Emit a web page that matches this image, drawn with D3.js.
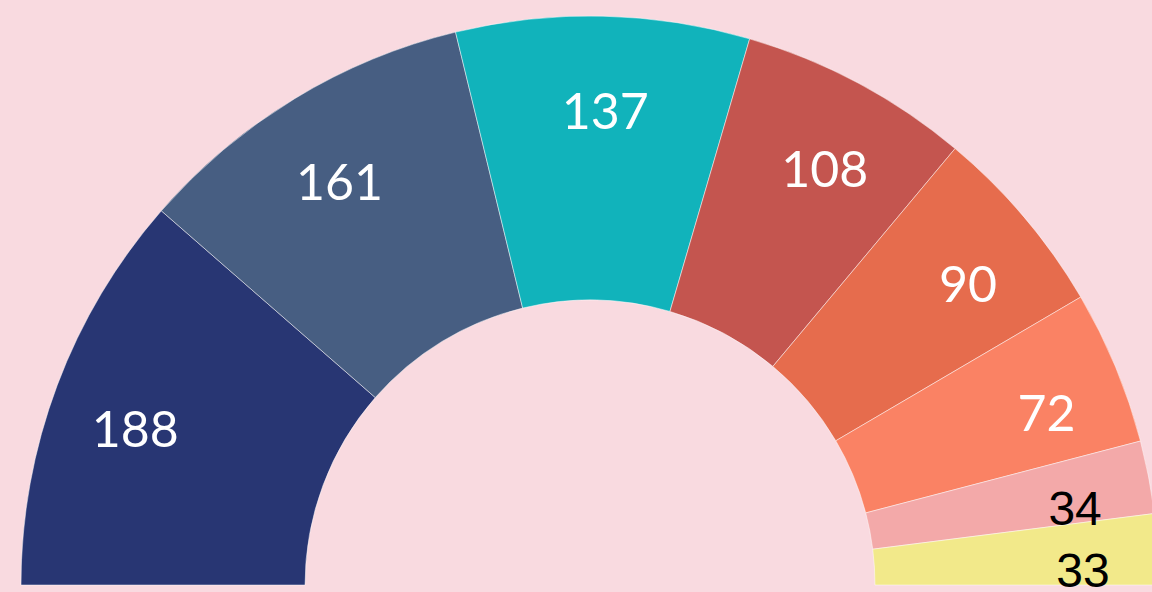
<!DOCTYPE html>
<html>
  <head>
    <script src="https://cdn.jsdelivr.net/npm/d3@7"></script>
    <style>
      body { margin: 0; background: #f9dae0; }
    </style>
  </head>
  <body>
    <svg id="chart" width="1152" height="592"></svg>
    <script>
      var groups = ["A", "B", "C", "D", "E", "F", "G", "H"];
      var seats = [188, 161, 137, 108, 90, 72, 34, 33];
      var colors = ["#283673", "#475e82", "#11b3bb", "#c4554f", "#e66c4d", "#fa8264", "#f3a9a9", "#f2e98a"];

      var data = groups.map((g, i) => ({name: g, value: seats[i]}));

      var cx = 590, cy = 585, outerR = 569, innerR = 285, labelR = 490;

      var pie = d3.pie().value(d => d.value).sort(null)
        .startAngle(-Math.PI / 2).endAngle(Math.PI / 2)(data);
      var arcMrk = d3.arc().innerRadius(innerR).outerRadius(outerR);
      var labelArc = d3.arc().innerRadius(labelR).outerRadius(labelR);

      var scaleC = d3.scaleOrdinal(colors).domain(groups);

      var svg = d3.select("#chart");
      svg.append("rect").attr("width", 1152).attr("height", 592).attr("fill", "#f9dae0");

      var g = svg.append("g").attr("transform", `translate(${cx}, ${cy})`);

      g.selectAll("path").data(pie).enter().append("path")
        .attr("d", arcMrk)
        .attr("fill", d => scaleC(d.data.name))
        .attr("stroke", "rgba(255,255,255,0.6)")
        .attr("stroke-width", 0.8);

      // small slices get dark labels in a plain font
      var small = d => d.data.value < 50;

      g.selectAll("text").data(pie).enter().append("text")
        .text(d => d.data.value)
        .attr("x", d => labelArc.centroid(d)[0] + 4)
        .attr("y", d => labelArc.centroid(d)[1] + 16)
        .attr("dy", "0.36em")
        .attr("text-anchor", "middle")
        .attr("font-family", d => small(d) ? "Liberation Sans, Arial, sans-serif" : "Lato, sans-serif")
        .attr("font-size", d => small(d) ? 48 : 50)
        .attr("fill", d => small(d) ? "#000" : "#fff");
    </script>
  </body>
</html>
